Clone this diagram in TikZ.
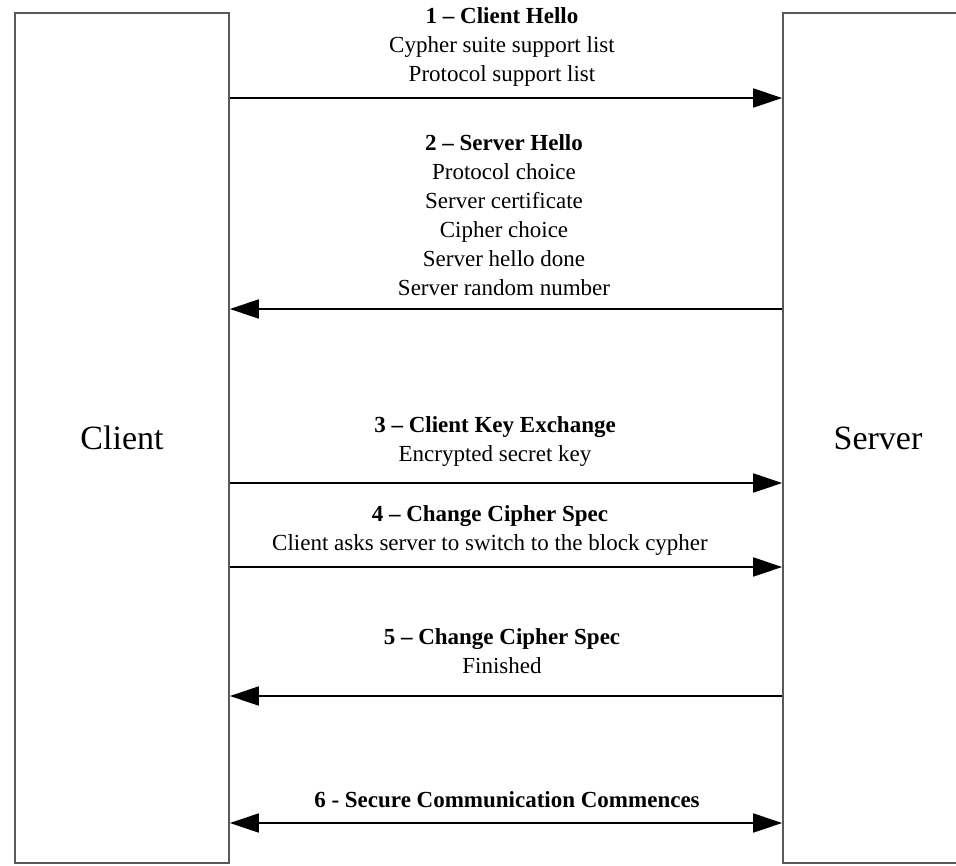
\documentclass[tikz,border=0pt]{standalone}
\usepackage{fontspec}
\setmainfont{Liberation Serif}
\usetikzlibrary{arrows.meta,positioning}

\begin{document}
\begin{tikzpicture}[x=1pt,y=-1pt,
    party/.style={draw=black!65,line width=1.6pt,rectangle,minimum height=850pt,font=\fontsize{34}{40}\selectfont},
    msg/.style={line width=1.6pt,-{Triangle[length=29pt,width=19pt]}},
    note/.style={align=center,font=\fontsize{23}{29}\selectfont}]
    \useasboundingbox (0,0) rectangle (956,865);

    \node[party, minimum width=214pt] (client) at (122,438) {Client};
    \node[party, minimum width=190pt] (server) at (878,438) {Server};

    \coordinate (y1) at (0,98);
    \coordinate (y2) at (0,309);
    \coordinate (y3) at (0,483);
    \coordinate (y4) at (0,567);
    \coordinate (y5) at (0,696);
    \coordinate (y6) at (0,823);

    \node[note] (m1) at (502,47) {\textbf{1 -- Client Hello}\\Cypher suite support list\\Protocol support list};
    \node[note] (m2) at (504,215) {\textbf{2 -- Server Hello}\\Protocol choice\\Server certificate\\Cipher choice\\Server hello done\\Server random number};
    \node[note] (m3) at (495,441) {\textbf{3 -- Client Key Exchange}\\Encrypted secret key};
    \node[note] (m4) at (490,530) {\textbf{4 -- Change Cipher Spec}\\Client asks server to switch to the block cypher};
    \node[note] (m5) at (502,651) {\textbf{5 -- Change Cipher Spec}\\Finished};
    \node[note] (m6) at (507,800) {\textbf{6 - Secure Communication Commences}};

    \draw[msg] (client.east |- y1) -- (server.west |- y1);
    \draw[msg] (server.west |- y2) -- (client.east |- y2);
    \draw[msg] (client.east |- y3) -- (server.west |- y3);
    \draw[msg] (client.east |- y4) -- (server.west |- y4);
    \draw[msg] (server.west |- y5) -- (client.east |- y5);
    \draw[msg, {Triangle[length=29pt,width=19pt]}-{Triangle[length=29pt,width=19pt]}] (client.east |- y6) -- (server.west |- y6);
\end{tikzpicture}
\end{document}
